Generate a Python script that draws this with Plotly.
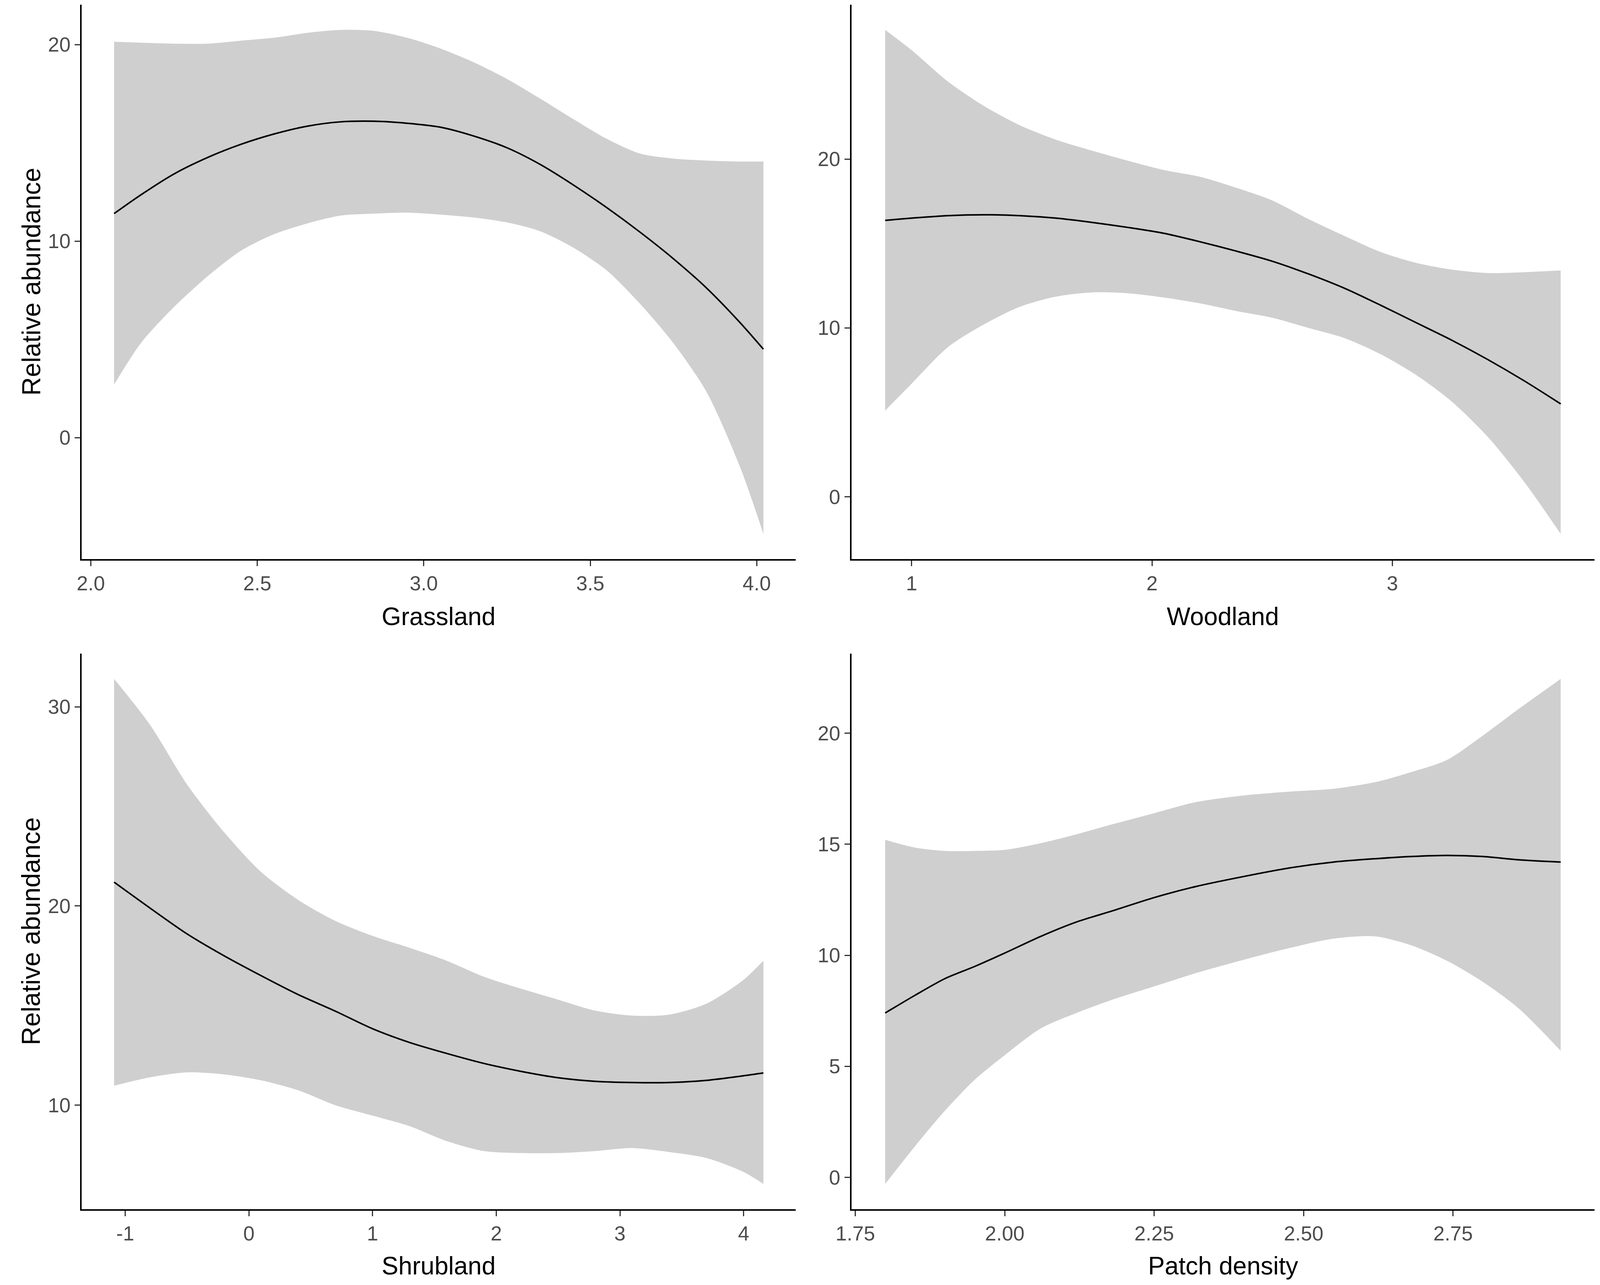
import plotly.graph_objects as go

# ---------------- data ----------------
grass_x = [2.07, 2.15, 2.25, 2.35, 2.45, 2.55, 2.65, 2.75, 2.85, 2.95, 3.05,
           3.15, 3.25, 3.35, 3.45, 3.55, 3.65, 3.75, 3.85, 3.95, 4.02]
grass_fit = [11.4, 12.35, 13.42, 14.25, 14.92, 15.45, 15.85, 16.07, 16.1, 16.0, 15.8,
             15.35, 14.75, 13.9, 12.85, 11.7, 10.45, 9.1, 7.6, 5.85, 4.5]
grass_hi = [20.15, 20.1, 20.05, 20.05, 20.2, 20.35, 20.6, 20.75, 20.7, 20.35, 19.8,
            19.1, 18.25, 17.25, 16.2, 15.2, 14.45, 14.2, 14.1, 14.05, 14.05]
grass_lo = [2.7, 4.8, 6.65, 8.2, 9.5, 10.35, 10.9, 11.3, 11.4, 11.45, 11.35,
            11.2, 10.95, 10.5, 9.66, 8.5, 6.8, 4.8, 2.3, -1.5, -4.9]

wood_x = [0.89, 1.0, 1.15, 1.3, 1.45, 1.6, 1.75, 1.9, 2.05, 2.2, 2.35, 2.5,
          2.65, 2.8, 2.95, 3.1, 3.25, 3.4, 3.55, 3.7]
wood_fit = [16.37, 16.5, 16.65, 16.7, 16.65, 16.5, 16.25, 15.95, 15.6, 15.1, 14.55,
            13.95, 13.2, 12.35, 11.35, 10.3, 9.25, 8.1, 6.85, 5.5]
wood_hi = [27.65, 26.45, 24.6, 23.15, 22.0, 21.15, 20.5, 19.9, 19.35, 18.95, 18.3,
           17.55, 16.45, 15.45, 14.5, 13.85, 13.45, 13.25, 13.3, 13.4]
wood_lo = [5.1, 6.7, 8.85, 10.2, 11.25, 11.85, 12.1, 12.05, 11.8, 11.45, 11.0,
           10.6, 10.0, 9.4, 8.45, 7.2, 5.6, 3.5, 0.85, -2.2]

shrub_x = [-1.09, -0.8, -0.5, -0.2, 0.1, 0.4, 0.7, 1.0, 1.3, 1.6, 1.9, 2.2,
           2.5, 2.8, 3.1, 3.4, 3.7, 4.0, 4.16]
shrub_fit = [21.2, 19.9, 18.6, 17.5, 16.5, 15.55, 14.72, 13.84, 13.15, 12.6, 12.1,
             11.7, 11.38, 11.2, 11.14, 11.14, 11.25, 11.48, 11.62]
shrub_hi = [31.4, 29.1, 26.1, 23.7, 21.7, 20.3, 19.25, 18.5, 17.9, 17.25, 16.45,
            15.85, 15.3, 14.75, 14.5, 14.55, 15.1, 16.3, 17.26]
shrub_lo = [10.98, 11.4, 11.65, 11.55, 11.25, 10.75, 10.0, 9.48, 8.95, 8.2, 7.7,
            7.6, 7.6, 7.7, 7.85, 7.65, 7.35, 6.65, 6.05]

patch_x = [1.80, 1.85, 1.90, 1.95, 2.00, 2.06, 2.12, 2.18, 2.25, 2.32, 2.40,
           2.48, 2.55, 2.62, 2.68, 2.74, 2.80, 2.86, 2.93]
patch_fit = [7.4, 8.2, 8.95, 9.5, 10.1, 10.85, 11.5, 12.0, 12.6, 13.1, 13.55,
             13.95, 14.2, 14.35, 14.45, 14.5, 14.45, 14.3, 14.2]
patch_hi = [15.2, 14.85, 14.7, 14.7, 14.75, 15.05, 15.45, 15.9, 16.4, 16.9, 17.2,
            17.38, 17.5, 17.8, 18.25, 18.8, 19.9, 21.1, 22.45]
patch_lo = [-0.3, 1.4, 3.0, 4.4, 5.5, 6.7, 7.4, 8.0, 8.6, 9.2, 9.8,
            10.35, 10.75, 10.85, 10.45, 9.75, 8.8, 7.6, 5.7]

grass_xticks = [2.0, 2.5, 3.0, 3.5, 4.0]
grass_xlabels = ["2.0", "2.5", "3.0", "3.5", "4.0"]
grass_yticks = [0, 10, 20]
wood_xticks = [1, 2, 3]
wood_xlabels = ["1", "2", "3"]
wood_yticks = [0, 10, 20]
shrub_xticks = [-1, 0, 1, 2, 3, 4]
shrub_xlabels = ["-1", "0", "1", "2", "3", "4"]
shrub_yticks = [10, 20, 30]
patch_xticks = [1.75, 2.00, 2.25, 2.50, 2.75]
patch_xlabels = ["1.75", "2.00", "2.25", "2.50", "2.75"]
patch_yticks = [0, 5, 10, 15, 20]

x_titles = ["Grassland", "Woodland", "Shrubland", "Patch density"]
y_title = "Relative abundance"

# ---------------- figure ----------------
REF_W, H = 4562, 3289      # reference geometry (pixel positions below are in it)
W = 4096                   # usable browser viewport width
FONT = "Liberation Sans Narrow, Arial Narrow, Liberation Sans, Arial, sans-serif"
BAND = "#CFCFCF"

panels = [
    (grass_x, grass_fit, grass_hi, grass_lo, grass_xticks, grass_xlabels, grass_yticks),
    (wood_x, wood_fit, wood_hi, wood_lo, wood_xticks, wood_xlabels, wood_yticks),
    (shrub_x, shrub_fit, shrub_hi, shrub_lo, shrub_xticks, shrub_xlabels, shrub_yticks),
    (patch_x, patch_fit, patch_hi, patch_lo, patch_xticks, patch_xlabels, patch_yticks),
]

col_px = [(189, 2246), (2406, 4546)]
row_px = [(12, 1431), (1673, 3095)]

def xdom(c):
    a, b = col_px[c]
    return [a / REF_W, b / REF_W]

def ydom(r):
    t, b = row_px[r]
    return [1 - b / H, 1 - t / H]

def expand(vals):
    lo, hi = min(vals), max(vals)
    d = (hi - lo) * 0.05
    return [lo - d, hi + d]

fig = go.Figure()
layout = dict(width=W, height=H, margin=dict(l=0, r=0, t=0, b=0),
              paper_bgcolor="white", plot_bgcolor="white", showlegend=False,
              font=dict(family=FONT))

annotations = []
for i, (x, fit, hi, lo, xt, xl, yt) in enumerate(panels):
    r, c = divmod(i, 2)
    n = i + 1
    xa = "x" if n == 1 else f"x{n}"
    ya = "y" if n == 1 else f"y{n}"
    fig.add_trace(go.Scatter(x=x, y=lo, mode="lines", line=dict(width=0, shape="spline", smoothing=0.8),
                             xaxis=xa, yaxis=ya, hoverinfo="skip"))
    fig.add_trace(go.Scatter(x=x, y=hi, mode="lines", line=dict(width=0, shape="spline", smoothing=0.8),
                             fill="tonexty", fillcolor=BAND, xaxis=xa, yaxis=ya, hoverinfo="skip"))
    fig.add_trace(go.Scatter(x=x, y=fit, mode="lines",
                             line=dict(color="black", width=4, shape="spline", smoothing=0.8),
                             xaxis=xa, yaxis=ya))
    common = dict(showgrid=False, zeroline=False, showline=True, linecolor="black", linewidth=4,
                  ticks="outside", ticklen=14, tickwidth=3, tickcolor="#333333",
                  tickfont=dict(family=FONT, size=52, color="#4D4D4D"))
    layout["xaxis" if n == 1 else f"xaxis{n}"] = dict(
        domain=xdom(c), anchor=ya, range=expand(x), tickvals=xt, ticktext=xl, **common)
    layout["yaxis" if n == 1 else f"yaxis{n}"] = dict(
        domain=ydom(r), anchor=xa, range=expand(hi + lo), tickvals=yt,
        ticktext=[str(v) for v in yt], **common)
    xc = (col_px[c][0] + col_px[c][1]) / 2 / REF_W
    ty = [1578, 3240][r]
    annotations.append(dict(text=x_titles[i], xref="paper", yref="paper", x=xc, y=1 - ty / H,
                            xanchor="center", yanchor="middle", showarrow=False,
                            font=dict(family=FONT, size=64, color="black")))
    if c == 0:
        yc = 1 - (row_px[r][0] + row_px[r][1]) / 2 / H
        annotations.append(dict(text=y_title, xref="paper", yref="paper", x=43 / REF_W, y=yc,
                                xanchor="center", yanchor="middle", textangle=-90, showarrow=False,
                                font=dict(family=FONT, size=66, color="black")))

layout["annotations"] = annotations
fig.update_layout(**layout)
fig.write_html("out.html", config={"displayModeBar": False},
               post_script="document.body.style.margin='0';")
